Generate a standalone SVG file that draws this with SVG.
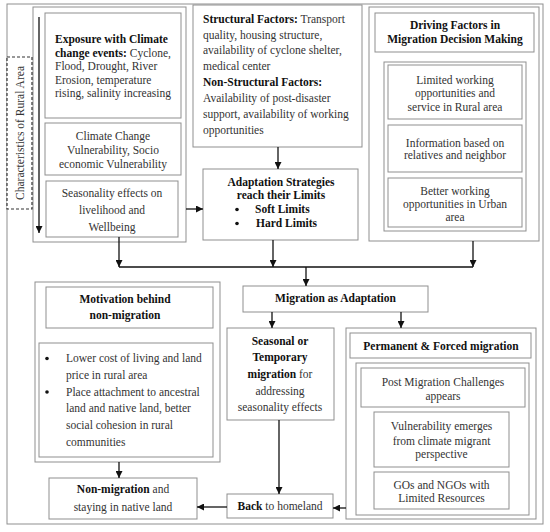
<svg xmlns="http://www.w3.org/2000/svg" width="550" height="532" viewBox="0 0 550 532">
<defs>
<style>
.box{fill:#fff;stroke:#8f8f8f;stroke-width:1}
.dash{fill:#fff;stroke:#333;stroke-width:1.2;stroke-dasharray:3,2}
.t{font-family:"Liberation Serif",serif;font-size:11.5px;fill:#333}
.b{font-weight:bold;fill:#111}
.c{text-anchor:middle}
.conn{stroke:#111;stroke-width:1.3;fill:none}
</style>
<marker id="ah" viewBox="0 0 10 10" refX="10" refY="5" markerWidth="7" markerHeight="7" markerUnits="userSpaceOnUse" orient="auto">
<path d="M0,0 L10,5 L0,10 z" fill="#111"/>
</marker>
</defs>
<rect x="0" y="0" width="550" height="532" fill="#fff"/>
<rect id="frame" x="7" y="4" width="536" height="520" fill="none" stroke="#8f8f8f" stroke-width="1"/>

<g id="rural-area">
<rect class="box" x="33" y="7" width="153" height="235"/>
<g id="exposure">
<rect class="box" x="45" y="13" width="136" height="105"/>
<text class="t" x="55" y="43"><tspan class="b">Exposure with Climate</tspan></text>
<text class="t" x="55" y="56.5"><tspan class="b">change events:</tspan> Cyclone,</text>
<text class="t" x="55" y="70">Flood, Drought, River</text>
<text class="t" x="55" y="83.5">Erosion, temperature</text>
<text class="t" x="55" y="97">rising, salinity increasing</text>
</g>
<g id="vulnerability">
<rect class="box" x="45" y="123" width="136" height="52"/>
<text class="t c" x="113" y="140">Climate Change</text>
<text class="t c" x="113" y="154">Vulnerability, Socio</text>
<text class="t c" x="113" y="167.5">economic Vulnerability</text>
</g>
<g id="seasonality">
<rect class="box" x="46" y="181" width="132" height="56"/>
<text class="t c" x="112" y="196.5">Seasonality effects on</text>
<text class="t c" x="112" y="213.5">livelihood and</text>
<text class="t c" x="112" y="230.5">Wellbeing</text>
</g>
</g>

<g id="characteristics">
<rect class="dash" x="7" y="57" width="25" height="152"/>
<text class="t" transform="translate(23.5,133) rotate(-90)" text-anchor="middle" font-size="10.5" textLength="134" lengthAdjust="spacingAndGlyphs">Characteristics of Rural Area</text>
</g>

<g id="structural">
<rect class="box" x="193" y="5" width="169" height="142"/>
<text class="t" x="203" y="23"><tspan class="b">Structural Factors:</tspan> Transport</text>
<text class="t" x="203" y="38.5">quality, housing structure,</text>
<text class="t" x="203" y="54">availability of cyclone shelter,</text>
<text class="t" x="203" y="70">medical center</text>
<text class="t" x="203" y="86"><tspan class="b">Non-Structural Factors:</tspan></text>
<text class="t" x="203" y="102">Availability of post-disaster</text>
<text class="t" x="203" y="118">support, availability of working</text>
<text class="t" x="203" y="134">opportunities</text>
</g>

<g id="adaptation-limits">
<rect class="box" x="203" y="169" width="155" height="71"/>
<text class="t b c" x="281" y="185.5">Adaptation Strategies</text>
<text class="t b c" x="281" y="198.5">reach their Limits</text>
<circle cx="237" cy="209.5" r="1.8" fill="#111"/>
<text class="t b" x="255" y="213">Soft Limits</text>
<circle cx="237" cy="223.5" r="1.8" fill="#111"/>
<text class="t b" x="256" y="227">Hard Limits</text>
</g>

<g id="driving-factors">
<rect class="box" x="369" y="7" width="170" height="234"/>
<rect class="box" x="375" y="13" width="159" height="39"/>
<text class="t b c" x="455" y="29">Driving Factors in</text>
<text class="t b c" x="455" y="43">Migration Decision Making</text>
<rect class="box" x="384" y="62" width="142" height="169"/>
<g id="limited-working">
<rect class="box" x="388" y="65" width="134" height="54"/>
<text class="t c" x="455" y="84">Limited working</text>
<text class="t c" x="455" y="97">opportunities and</text>
<text class="t c" x="455" y="110.5">service in Rural area</text>
</g>
<g id="information">
<rect class="box" x="388" y="125" width="134" height="47"/>
<text class="t c" x="455" y="146.5">Information based on</text>
<text class="t c" x="455" y="159">relatives and neighbor</text>
</g>
<g id="better-working">
<rect class="box" x="388" y="178" width="134" height="49"/>
<text class="t c" x="455" y="194.5">Better working</text>
<text class="t c" x="455" y="207.5">opportunities in Urban</text>
<text class="t c" x="455" y="221">area</text>
</g>
</g>

<g id="migration-adaptation">
<rect class="box" x="243" y="286" width="185" height="26"/>
<text class="t b c" x="335.5" y="302">Migration as Adaptation</text>
</g>

<g id="motivation">
<rect class="box" x="35" y="282" width="185" height="180"/>
<rect class="box" x="46" y="287" width="167" height="41"/>
<text class="t b c" x="125" y="303">Motivation behind</text>
<text class="t b c" x="125" y="319">non-migration</text>
<rect class="box" x="39" y="343" width="174" height="114"/>
<circle cx="47" cy="358.5" r="1.8" fill="#111"/>
<text class="t" x="66" y="362">Lower cost of living and land</text>
<text class="t" x="66" y="378.5">price in rural area</text>
<circle cx="47" cy="392" r="1.8" fill="#111"/>
<text class="t" x="66" y="395.5">Place attachment to ancestral</text>
<text class="t" x="66" y="412">land and native land, better</text>
<text class="t" x="66" y="429">social cohesion in rural</text>
<text class="t" x="66" y="445.5">communities</text>
</g>

<g id="seasonal">
<rect class="box" x="227" y="328" width="107" height="92"/>
<text class="t b c" x="280" y="344.5">Seasonal or</text>
<text class="t b c" x="280" y="361">Temporary</text>
<text class="t c" x="280" y="378"><tspan class="b">migration</tspan> for</text>
<text class="t c" x="280" y="394.5">addressing</text>
<text class="t c" x="280" y="410.5">seasonality effects</text>
</g>

<g id="permanent">
<rect class="box" x="346" y="328" width="190" height="191"/>
<rect class="box" x="350" y="333" width="181" height="25"/>
<text class="t b c" x="441" y="349.5">Permanent &amp; Forced migration</text>
<rect class="box" x="356" y="363" width="173" height="152"/>
<g id="post-migration">
<rect class="box" x="361" y="368" width="164" height="39"/>
<text class="t c" x="443" y="385.5">Post Migration Challenges</text>
<text class="t c" x="443" y="399.5">appears</text>
</g>
<g id="vuln-emerges">
<rect class="box" x="374" y="412" width="135" height="55"/>
<text class="t c" x="441.5" y="430">Vulnerability emerges</text>
<text class="t c" x="441.5" y="444.5">from climate migrant</text>
<text class="t c" x="441.5" y="458">perspective</text>
</g>
<g id="gos-ngos">
<rect class="box" x="374" y="472" width="135" height="37"/>
<text class="t c" x="441.5" y="489">GOs and NGOs with</text>
<text class="t c" x="441.5" y="502">Limited Resources</text>
</g>
</g>

<g id="back-homeland">
<rect class="box" x="227" y="494" width="106" height="24"/>
<text class="t c" x="280" y="510"><tspan class="b">Back</tspan> to homeland</text>
</g>

<g id="non-migration">
<rect class="box" x="49" y="478" width="148" height="41"/>
<text class="t c" x="123" y="493"><tspan class="b">Non-migration</tspan> and</text>
<text class="t c" x="123" y="510.5">staying in native land</text>
</g>

<g id="connectors">
<line class="conn" x1="39" y1="17" x2="39" y2="233" marker-end="url(#ah)"/>
<line class="conn" x1="186" y1="209" x2="203" y2="209" marker-end="url(#ah)"/>
<line class="conn" x1="278" y1="147" x2="278" y2="169" marker-end="url(#ah)"/>
<line class="conn" x1="119" y1="237" x2="119" y2="267" marker-end="url(#ah)"/>
<line class="conn" x1="273" y1="240" x2="273" y2="267" marker-end="url(#ah)"/>
<line class="conn" x1="473" y1="241" x2="473" y2="267" marker-end="url(#ah)"/>
<line class="conn" x1="119" y1="267" x2="473" y2="267"/>
<line class="conn" x1="306" y1="267" x2="306" y2="286" marker-end="url(#ah)"/>
<line class="conn" x1="272" y1="312" x2="272" y2="328" marker-end="url(#ah)"/>
<line class="conn" x1="401" y1="312" x2="401" y2="328" marker-end="url(#ah)"/>
<line class="conn" x1="279" y1="420" x2="279" y2="494" marker-end="url(#ah)"/>
<line class="conn" x1="346" y1="508" x2="333" y2="508" marker-end="url(#ah)"/>
<line class="conn" x1="227" y1="507" x2="197" y2="507" marker-end="url(#ah)"/>
<line class="conn" x1="119" y1="462" x2="119" y2="478" marker-end="url(#ah)"/>
</g>
</svg>
